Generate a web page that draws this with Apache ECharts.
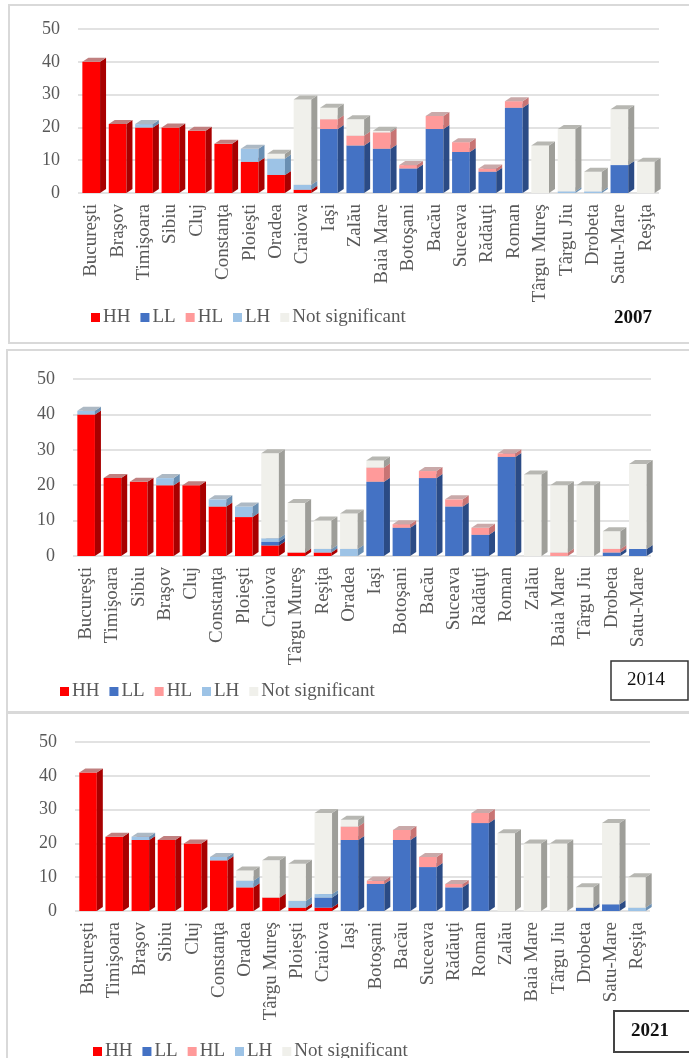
<!DOCTYPE html>
<html>
<head>
<meta charset="utf-8">
<script src="https://cdn.jsdelivr.net/npm/echarts@6/dist/echarts.min.js"></script>
<style>
  html, body { margin: 0; padding: 0; background: #fff; }
  #page { position: relative; width: 689px; height: 1058px; overflow: hidden; }
  .frame { position: absolute; border: 2px solid #d9d9d9; box-sizing: border-box; }
  .chart { position: absolute; left: 0; width: 689px; }
</style>
</head>
<body>
<div id="page">
  <div class="frame" style="left:8px;top:4px;width:720px;height:340px;"></div>
  <div class="frame" style="left:6px;top:349px;width:720px;height:364px;"></div>
  <div class="frame" style="left:6px;top:712px;width:720px;height:360px;"></div>
  <div id="c2007" class="chart" style="top:5px;height:338px;"></div>
  <div id="c2014" class="chart" style="top:350px;height:362px;"></div>
  <div id="c2021" class="chart" style="top:713px;height:345px;"></div>
</div>
<script>
// Cluster classes, in stacking order (bottom to top)
const classNames = ['HH', 'LL', 'HL', 'LH', 'Not significant'];

// ---- 2007 ----
const cities2007 = ['Bucureşti','Braşov','Timişoara','Sibiu','Cluj','Constanţa','Ploieşti','Oradea','Craiova','Iaşi','Zalău','Baia Mare','Botoşani','Bacău','Suceava','Rădăuţi','Roman','Târgu Mureş','Târgu Jiu','Drobeta','Satu-Mare','Reşiţa'];
const hh2007 = [40, 21, 20, 20, 19, 15, 9.5, 5.5, 1, 0, 0, 0, 0, 0, 0, 0, 0, 0, 0, 0, 0, 0];
const ll2007 = [0, 0, 0, 0, 0, 0, 0, 0, 0, 19.5, 14.5, 13.5, 7.5, 19.5, 12.5, 6.5, 26, 0, 0, 0, 8.5, 0];
const hl2007 = [0, 0, 0, 0, 0, 0, 0, 0, 0, 3, 3, 5, 1, 4, 3, 1, 2, 0, 0, 0, 0, 0];
const lh2007 = [0, 0, 1, 0, 0, 0, 4, 5, 1.5, 0, 0, 0, 0, 0, 0, 0, 0, 0, 0.5, 0.5, 0, 0];
const ns2007 = [0, 0, 0, 0, 0, 0, 0, 1.5, 26, 3.5, 5, 0.5, 0, 0, 0, 0, 0, 14.5, 19, 6, 17, 9.5];

// ---- 2014 ----
const cities2014 = ['Bucureşti','Timişoara','Sibiu','Braşov','Cluj','Constanţa','Ploieşti','Craiova','Târgu Mureş','Reşiţa','Oradea','Iaşi','Botoşani','Bacău','Suceava','Rădăuţi','Roman','Zalău','Baia Mare','Târgu Jiu','Drobeta','Satu-Mare'];
const hh2014 = [40, 22, 21, 20, 20, 14, 11, 3, 1, 1, 0, 0, 0, 0, 0, 0, 0, 0, 0, 0, 0, 0];
const ll2014 = [0, 0, 0, 0, 0, 0, 0, 1, 0, 0, 0, 21, 8, 22, 14, 6, 28, 0, 0, 0, 1, 2];
const hl2014 = [0, 0, 0, 0, 0, 0, 0, 0, 0, 0, 0, 4, 1, 2, 2, 2, 1, 0, 1, 0, 1, 0];
const lh2014 = [1, 0, 0, 2, 0, 2, 3, 1, 0, 1, 2, 0, 0, 0, 0, 0, 0, 0, 0, 0, 0, 0];
const ns2014 = [0, 0, 0, 0, 0, 0, 0, 24, 14, 8, 10, 2, 0, 0, 0, 0, 0, 23, 19, 20, 5, 24];

// ---- 2021 ----
const cities2021 = ['Bucureşti','Timişoara','Braşov','Sibiu','Cluj','Constanţa','Oradea','Târgu Mureş','Ploieşti','Craiova','Iaşi','Botoşani','Bacău','Suceava','Rădăuţi','Roman','Zalău','Baia Mare','Târgu Jiu','Drobeta','Satu-Mare','Reşiţa'];
const hh2021 = [41, 22, 21, 21, 20, 15, 7, 4, 1, 1, 0, 0, 0, 0, 0, 0, 0, 0, 0, 0, 0, 0];
const ll2021 = [0, 0, 0, 0, 0, 0, 0, 0, 0, 3, 21, 8, 21, 13, 7, 26, 0, 0, 0, 1, 2, 0];
const hl2021 = [0, 0, 0, 0, 0, 0, 0, 0, 0, 0, 4, 1, 3, 3, 1, 3, 0, 0, 0, 0, 0, 0];
const lh2021 = [0, 0, 1, 0, 0, 1, 2, 0, 2, 1, 0, 0, 0, 0, 0, 0, 0, 0, 0, 0, 0, 1];
const ns2021 = [0, 0, 0, 0, 0, 0, 3, 11, 11, 24, 2, 0, 0, 0, 0, 0, 23, 20, 20, 6, 24, 9];

// Face colours per class: front, right side, top
const faces = [
  { front: '#ff0000', side: '#a80000', top: '#c08080' },
  { front: '#4472c4', side: '#2b4b85', top: '#8e9cb6' },
  { front: '#ff9a9a', side: '#c87474', top: '#c9a9a9' },
  { front: '#9dc3e6', side: '#6a8fb2', top: '#adb9c4' },
  { front: '#f0f0eb', side: '#9e9e99', top: '#b7b7b2' }
];
const DX = 6, DY = 4;            // pseudo-3D depth offsets (px)
const FONT = '"Liberation Serif", "Times New Roman", serif';

// Stack each class on top of the previous ones: items are [category, base, top]
function stackSegments(lists) {
  const n = lists[0].length;
  const base = new Array(n).fill(0);
  return lists.map(vals => {
    const out = [];
    for (let i = 0; i < n; i++) {
      const v = vals[i];
      if (v > 0) out.push([i, base[i], base[i] + v]);
      base[i] += v;
    }
    return out;
  });
}

function makeRender(face) {
  return function (params, api) {
    const c = api.value(0);
    const pLo = api.coord([c, api.value(1)]);
    const pHi = api.coord([c, api.value(2)]);
    const band = api.size([1, 0])[0];
    const w = band * 0.67;
    const x = pLo[0] - w / 2, yB = pLo[1], yT = pHi[1];
    return {
      type: 'group',
      children: [
        { type: 'rect', shape: { x: x, y: yT, width: w, height: yB - yT }, style: { fill: face.front } },
        { type: 'polygon', shape: { points: [[x + w, yT], [x + w + DX, yT - DY], [x + w + DX, yB - DY], [x + w, yB]] }, style: { fill: face.side } },
        { type: 'polygon', shape: { points: [[x, yT], [x + DX, yT - DY], [x + w + DX, yT - DY], [x + w, yT]] }, style: { fill: face.top } }
      ]
    };
  };
}

function buildOption(cfg) {
  const segs = stackSegments(cfg.values);
  const series = classNames.map((name, k) => ({
    type: 'custom',
    name: name,
    renderItem: makeRender(faces[k]),
    itemStyle: { color: faces[k].front },
    encode: { x: 0, y: [1, 2] },
    data: segs[k]
  }));
  return {
    animation: false,
    grid: cfg.grid,
    legend: {
      data: classNames,
      left: cfg.legend.left,
      top: cfg.legend.top,
      icon: 'rect',
      itemWidth: 9,
      itemHeight: 9,
      itemGap: 10,
      textStyle: { fontFamily: FONT, fontSize: 19, color: '#595959', padding: [0, 0, 0, -2] }
    },
    xAxis: {
      type: 'category',
      data: cfg.cities,
      axisLine: { show: false },
      axisTick: { show: false },
      axisLabel: { rotate: 90, interval: 0, margin: 11, fontFamily: FONT, fontSize: 19, color: '#595959' }
    },
    yAxis: {
      type: 'value',
      min: 0, max: 50, interval: 10,
      axisLine: { show: false },
      axisTick: { show: false },
      splitLine: { lineStyle: { color: '#d9d9d9', width: 1.5 } },
      axisLabel: { margin: 18, fontFamily: FONT, fontSize: 18, color: '#595959' }
    },
    graphic: cfg.graphic,
    series: series
  };
}

const panels = [
  {
    el: 'c2007', cities: cities2007,
    values: [hh2007, ll2007, hl2007, lh2007, ns2007],
    grid: { left: 78, top: 24, width: 581, height: 164 },
    legend: { left: 86, top: 298 },
    graphic: [
      { type: 'text', x: 633, y: 313, style: { text: '2007', font: 'bold 19px ' + FONT, fill: '#111', align: 'center', verticalAlign: 'middle' } }
    ]
  },
  {
    el: 'c2014', cities: cities2014,
    values: [hh2014, ll2014, hl2014, lh2014, ns2014],
    grid: { left: 73, top: 29, width: 578, height: 177 },
    legend: { left: 55, top: 327 },
    graphic: [
      { type: 'rect', shape: { x: 611, y: 311, width: 77, height: 39 }, style: { fill: '#fff', stroke: '#333', lineWidth: 1.5 } },
      { type: 'text', x: 646, y: 330, style: { text: '2014', font: '19px ' + FONT, fill: '#111', align: 'center', verticalAlign: 'middle' } }
    ]
  },
  {
    el: 'c2021', cities: cities2021,
    values: [hh2021, ll2021, hl2021, lh2021, ns2021],
    grid: { left: 75, top: 29, width: 575, height: 169 },
    legend: { left: 88, top: 324 },
    graphic: [
      { type: 'rect', shape: { x: 614, y: 298, width: 90, height: 41 }, style: { fill: '#fff', stroke: '#444', lineWidth: 2 } },
      { type: 'text', x: 650, y: 318, style: { text: '2021', font: 'bold 19px ' + FONT, fill: '#111', align: 'center', verticalAlign: 'middle' } }
    ]
  }
];

panels.forEach(cfg => {
  const chart = echarts.init(document.getElementById(cfg.el), null, { renderer: 'canvas' });
  chart.setOption(buildOption(cfg));
});
</script>
</body>
</html>
